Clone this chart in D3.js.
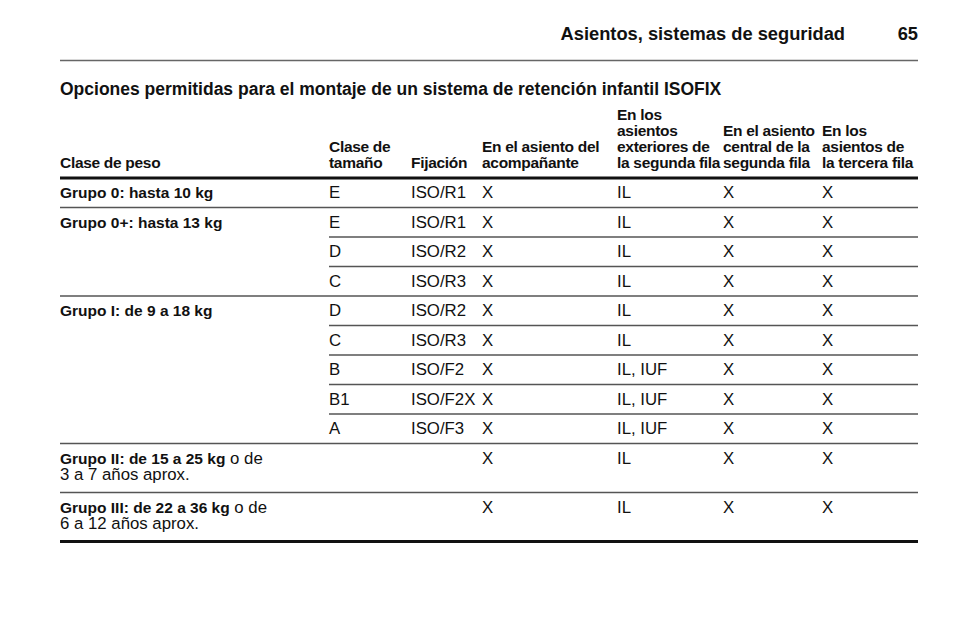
<!DOCTYPE html>
<html><head><meta charset="utf-8">
<script src="https://cdn.jsdelivr.net/npm/d3@7"></script>
<style>body{margin:0;background:#fff}text{font-family:"Liberation Sans",Arial,sans-serif;fill:#111}</style>
</head><body><svg id="c" width="960" height="642"></svg>
<script>
const pageTitle = "Asientos, sistemas de seguridad";
const pageNumber = "65";
const tableTitle = "Opciones permitidas para el montaje de un sistema de retención infantil ISOFIX";
const headers = [
  ["Clase de peso"],
  ["Clase de","tamaño"],
  ["Fijación"],
  ["En el asiento del","acompañante"],
  ["En los","asientos","exteriores de","la segunda fila"],
  ["En el asiento","central de la","segunda fila"],
  ["En los","asientos de","la tercera fila"]
];
const groups = [
  {bold:"Grupo 0: hasta 10 kg", rest:"", line2:"", rows:[["E","ISO/R1","X","IL","X","X"]]},
  {bold:"Grupo 0+: hasta 13 kg", rest:"", line2:"", rows:[["E","ISO/R1","X","IL","X","X"],["D","ISO/R2","X","IL","X","X"],["C","ISO/R3","X","IL","X","X"]]},
  {bold:"Grupo I: de 9 a 18 kg", rest:"", line2:"", rows:[["D","ISO/R2","X","IL","X","X"],["C","ISO/R3","X","IL","X","X"],["B","ISO/F2","X","IL, IUF","X","X"],["B1","ISO/F2X","X","IL, IUF","X","X"],["A","ISO/F3","X","IL, IUF","X","X"]]},
  {bold:"Grupo II: de 15 a 25 kg", rest:" o de", line2:"3 a 7 años aprox.", rows:[["","","X","IL","X","X"]]},
  {bold:"Grupo III: de 22 a 36 kg", rest:" o de", line2:"6 a 12 años aprox.", rows:[["","","X","IL","X","X"]]}
];
const colX = [60,329,411,482,617,723,822];
const svg = d3.select("#c");
const L=60,R=918;
svg.append("text").attr("x",845).attr("y",40).attr("text-anchor","end").attr("font-size",18.3).attr("font-weight","bold").text(pageTitle);
svg.append("text").attr("x",R).attr("y",40).attr("text-anchor","end").attr("font-size",18.3).attr("font-weight","bold").text(pageNumber);
svg.append("line").attr("x1",L).attr("x2",R).attr("y1",60.5).attr("y2",60.5).attr("stroke","#666").attr("stroke-width",1.5);
svg.append("text").attr("x",L).attr("y",95).attr("font-size",17.5).attr("font-weight","bold").text(tableTitle);
const fs=15.5, bfs=16.8;
headers.forEach((h,i)=>{
  h.forEach((t,j)=>{
    svg.append("text").attr("x",colX[i]).attr("y",168-16*(h.length-1-j)).attr("font-size",fs).attr("font-weight","bold").attr("letter-spacing",-0.3).text(t);
  });
});
svg.append("line").attr("x1",L).attr("x2",R).attr("y1",178).attr("y2",178).attr("stroke","#111").attr("stroke-width",3);
let y=178;
const rowH=29.5, tallH=49;
groups.forEach((g,gi)=>{
  g.rows.forEach((r,ri)=>{
    const h = g.line2 ? tallH : rowH;
    const base = y+20;
    if(ri===0){
      const t=svg.append("text").attr("x",L).attr("y",base).attr("font-size",fs);
      t.append("tspan").attr("font-weight","bold").text(g.bold);
      if(g.rest) t.append("tspan").attr("font-size",bfs).text(g.rest);
      if(g.line2) svg.append("text").attr("x",L).attr("y",base+16).attr("font-size",bfs).text(g.line2);
    }
    r.forEach((v,ci)=>{ if(v) svg.append("text").attr("x",colX[ci+1]).attr("y",base).attr("font-size",bfs).text(v); });
    y+=h;
    const last = gi===groups.length-1 && ri===g.rows.length-1;
    const endGroup = ri===g.rows.length-1;
    svg.append("line").attr("x1",endGroup?L:colX[1]).attr("x2",R).attr("y1",y).attr("y2",y)
      .attr("stroke",last?"#111":"#555").attr("stroke-width",last?3:1.5);
  });
});
</script></body></html>
